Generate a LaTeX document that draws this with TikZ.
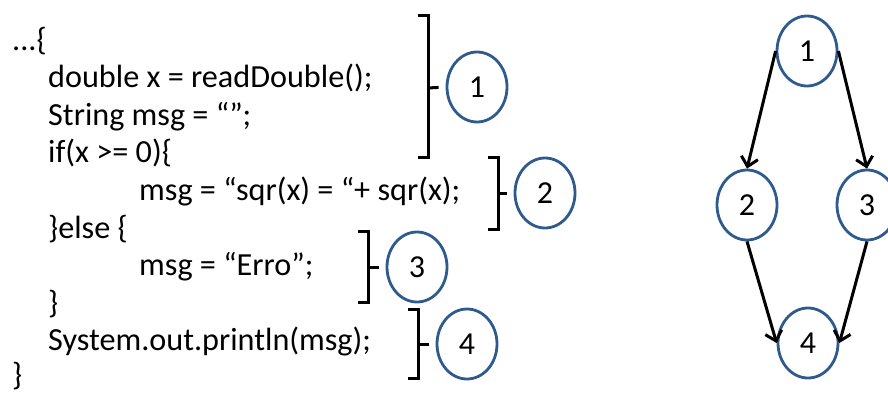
\documentclass[tikz,border=0pt]{standalone}
\usepackage{fontspec}
\setmainfont{Carlito}
\usetikzlibrary{shapes.geometric,arrows.meta}
\definecolor{circblue}{HTML}{2F5A8E}
\tikzset{
  code/.style={anchor=base west,inner sep=0pt,font=\fontsize{32.2}{38}\selectfont},
  num/.style={ellipse,draw=circblue,line width=2.8pt,minimum width=60pt,minimum height=70pt,inner sep=0pt,font=\fontsize{32}{38}\selectfont},
  brk/.style={line width=3pt,black},
  edge/.style={line width=3pt,-{Straight Barb[length=9pt,width=17pt,line width=3pt]}}
}
\begin{document}
\begin{tikzpicture}[x=1pt,y=-1pt]
\useasboundingbox (0,0) rectangle (888,394);
\clip (0,0) rectangle (888,394);
% code
\node[code] (l0) at (12,50) {...\{};
\node[code] (l1) at (48,87.6) {double x = readDouble();};
\node[code] (l2) at (48,125.2) {String msg = “”;};
\node[code] (l3) at (48,162.8) {if(x >= 0)\{};
\node[code] (l4) at (139,200.4) {msg = “sqr(x) = “+ sqr(x);};
\node[code] (l5) at (48,238) {\}else \{};
\node[code] (l6) at (139,275.6) {msg = “Erro”;};
\node[code] (l7) at (48,313.2) {\}};
\node[code] (l8) at (48,350.8) {System.out.println(msg);};
\node[code] (l9) at (12,385.5) {\}};
% labelled circles
\node[num] (c1) at (477,87) {1};
\node[num] (c2) at (545,193) {2};
\node[num] (c3) at (417,267) {3};
\node[num] (c4) at (467,344) {4};
% brackets
\draw[brk] (418,15) -- (428,15) -- (428,157) -- (418,157);
\draw[brk,shorten >=7pt] (428,88) -- (c1.west);
\draw[brk] (488,157) -- (498,157) -- (498,229) -- (488,229);
\draw[brk,shorten >=7pt] (498,193) -- (c2.west);
\draw[brk] (358,231) -- (368,231) -- (368,302) -- (358,302);
\draw[brk,shorten >=7pt] (368,267) -- (c3.west);
\draw[brk] (408,309) -- (418,309) -- (418,378) -- (408,378);
\draw[brk,shorten >=7pt] (418,344) -- (c4.west);
% graph
\node[num] (g1) at (807,51) {1};
\node[num] (g2) at (747,205) {2};
\node[num] (g3) at (867,205) {3};
\node[num] (g4) at (808,343) {4};
\draw[edge] (g1.west) -- (g2.north);
\draw[edge] (g1.east) -- (g3.north);
\draw[edge] (g2.south) -- (g4.west);
\draw[edge] (g3.south) -- (g4.east);
\end{tikzpicture}
\end{document}
